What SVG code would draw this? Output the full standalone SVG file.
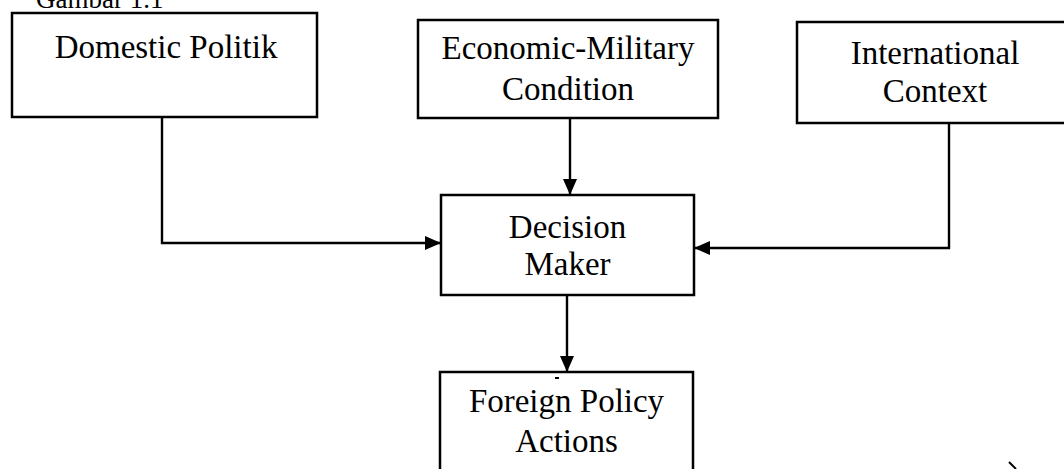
<svg xmlns="http://www.w3.org/2000/svg" width="1064" height="469" viewBox="0 0 1064 469">
  <style>
    .box { fill: #ffffff; stroke: #000000; stroke-width: 2.5; }
    .label { font-family: "Liberation Serif", "Times New Roman", serif; font-size: 33px; fill: #000000; text-anchor: middle; }
    .caption { font-family: "Liberation Serif", "Times New Roman", serif; font-size: 27px; fill: #000000; }
    .wire { fill: none; stroke: #000000; stroke-width: 2.4; }
  </style>
  <defs>
    <marker id="arrow" viewBox="0 0 16 14" refX="16" refY="7" markerWidth="16" markerHeight="14" markerUnits="userSpaceOnUse" orient="auto">
      <path d="M0,0 L16,7 L0,14 Z" fill="#000000"/>
    </marker>
  </defs>
  <rect width="1064" height="469" fill="#ffffff"/>

  <text class="caption" x="36" y="8">Gambar 1.1</text>

  <g id="connectors">
    <path class="wire" d="M162,117 V243 H441" marker-end="url(#arrow)"/>
    <path class="wire" d="M570,118 V195" marker-end="url(#arrow)"/>
    <path class="wire" d="M949,123 V248 H694" marker-end="url(#arrow)"/>
    <path class="wire" d="M567,295 V372" marker-end="url(#arrow)"/>
  </g>

  <g id="domestic-politik">
    <rect class="box" x="12" y="13" width="305" height="104"/>
    <text class="label" x="166" y="58">Domestic Politik</text>
  </g>

  <g id="economic-military">
    <rect class="box" x="418" y="20" width="300" height="98"/>
    <text class="label" x="568" y="59">Economic-Military</text>
    <text class="label" x="568" y="100">Condition</text>
  </g>

  <g id="international-context">
    <rect class="box" x="797" y="22" width="280" height="101"/>
    <text class="label" x="935" y="64">International</text>
    <text class="label" x="935" y="102">Context</text>
  </g>

  <g id="decision-maker">
    <rect class="box" x="441" y="195" width="253" height="100"/>
    <text class="label" x="567.5" y="238">Decision</text>
    <text class="label" x="567.5" y="275">Maker</text>
  </g>

  <g id="foreign-policy-actions">
    <rect class="box" x="440" y="372" width="253" height="110"/>
    <text class="label" x="566.5" y="412">Foreign Policy</text>
    <text class="label" x="566.5" y="452">Actions</text>
  </g>

  <!-- small stray marks -->
  <rect x="555" y="377" width="4" height="2" fill="#000000"/>
  <line x1="1009" y1="462" x2="1016" y2="469" stroke="#000000" stroke-width="2"/>
</svg>
